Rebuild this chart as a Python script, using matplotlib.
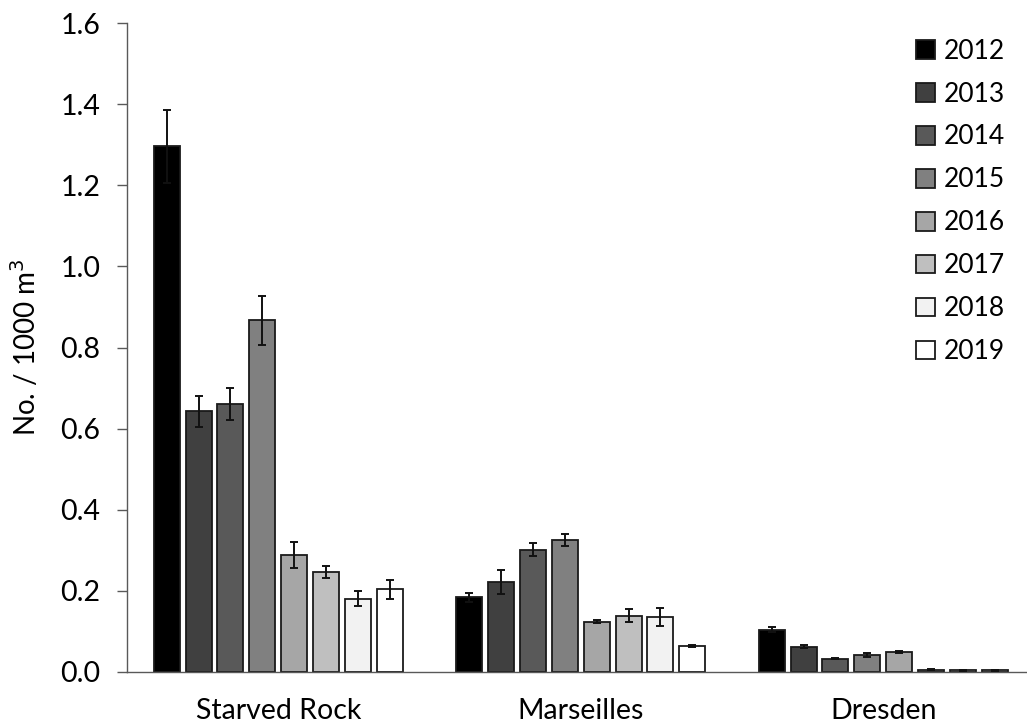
import numpy as np
import matplotlib
matplotlib.use("Agg")
import matplotlib.pyplot as plt

plt.rcParams['font.family'] = ['Lato', 'DejaVu Sans']

sites = ["Starved Rock", "Marseilles", "Dresden"]
years = ["2012", "2013", "2014", "2015", "2016", "2017", "2018", "2019"]
colors = ["#000000", "#404040", "#595959", "#808080", "#a6a6a6", "#bfbfbf", "#f2f2f2", "#ffffff"]

# rows = years, columns = sites
means = [
    [1.296, 0.184, 0.104],
    [0.643, 0.222, 0.062],
    [0.661, 0.302, 0.033],
    [0.867, 0.326, 0.042],
    [0.289, 0.124, 0.050],
    [0.246, 0.139, 0.006],
    [0.181, 0.136, 0.004],
    [0.204, 0.064, 0.004],
]
errs = [
    [0.090, 0.011, 0.006],
    [0.038, 0.030, 0.004],
    [0.039, 0.016, 0.002],
    [0.061, 0.015, 0.004],
    [0.032, 0.003, 0.003],
    [0.015, 0.016, 0.001],
    [0.018, 0.023, 0.001],
    [0.023, 0.002, 0.001],
]

fig = plt.figure(figsize=(10.27, 7.27), dpi=100)
ax = fig.add_axes([127 / 1027, 55 / 727, 907.5 / 1027, 649 / 727])

x = np.arange(len(sites))
pitch = 0.1053
width = 0.086
for i, yr in enumerate(years):
    pos = x + (i - 3.5) * pitch
    ax.bar(pos, means[i], width, color=colors[i], edgecolor="#1a1a1a",
           linewidth=1.3, label=yr, zorder=2)
    ax.errorbar(pos, means[i], yerr=errs[i], fmt="none", ecolor="#111111",
                elinewidth=1.4, capsize=3, capthick=1.4, zorder=3)

ax.set_xlim(-0.5, 2.5)
ax.set_ylim(0, 1.6)
ax.set_yticks(np.arange(0, 1.61, 0.2))
ax.set_yticklabels(["%.1f" % v for v in np.arange(0, 1.61, 0.2)], fontsize=20.5)
ax.set_xticks(x)
ax.set_xticklabels(sites, fontsize=20.5)
ax.tick_params(axis="x", length=0, pad=19)
ax.tick_params(axis="y", length=7, width=1, color="#595959", pad=12)
for s in ["top", "right"]:
    ax.spines[s].set_visible(False)
for s in ["left", "bottom"]:
    ax.spines[s].set_color("#595959")
    ax.spines[s].set_linewidth(1)

ax.set_ylabel("No. / 1000 m$^3$", fontsize=20, labelpad=14)

fig.legend(loc="upper left", bbox_to_anchor=(905 / 1027, 1 - 28 / 727),
           frameon=False, fontsize=19, handlelength=0.72, handleheight=0.72,
           handletextpad=0.35, labelspacing=0.68, borderaxespad=0)

fig.savefig("out.png", dpi=100)
